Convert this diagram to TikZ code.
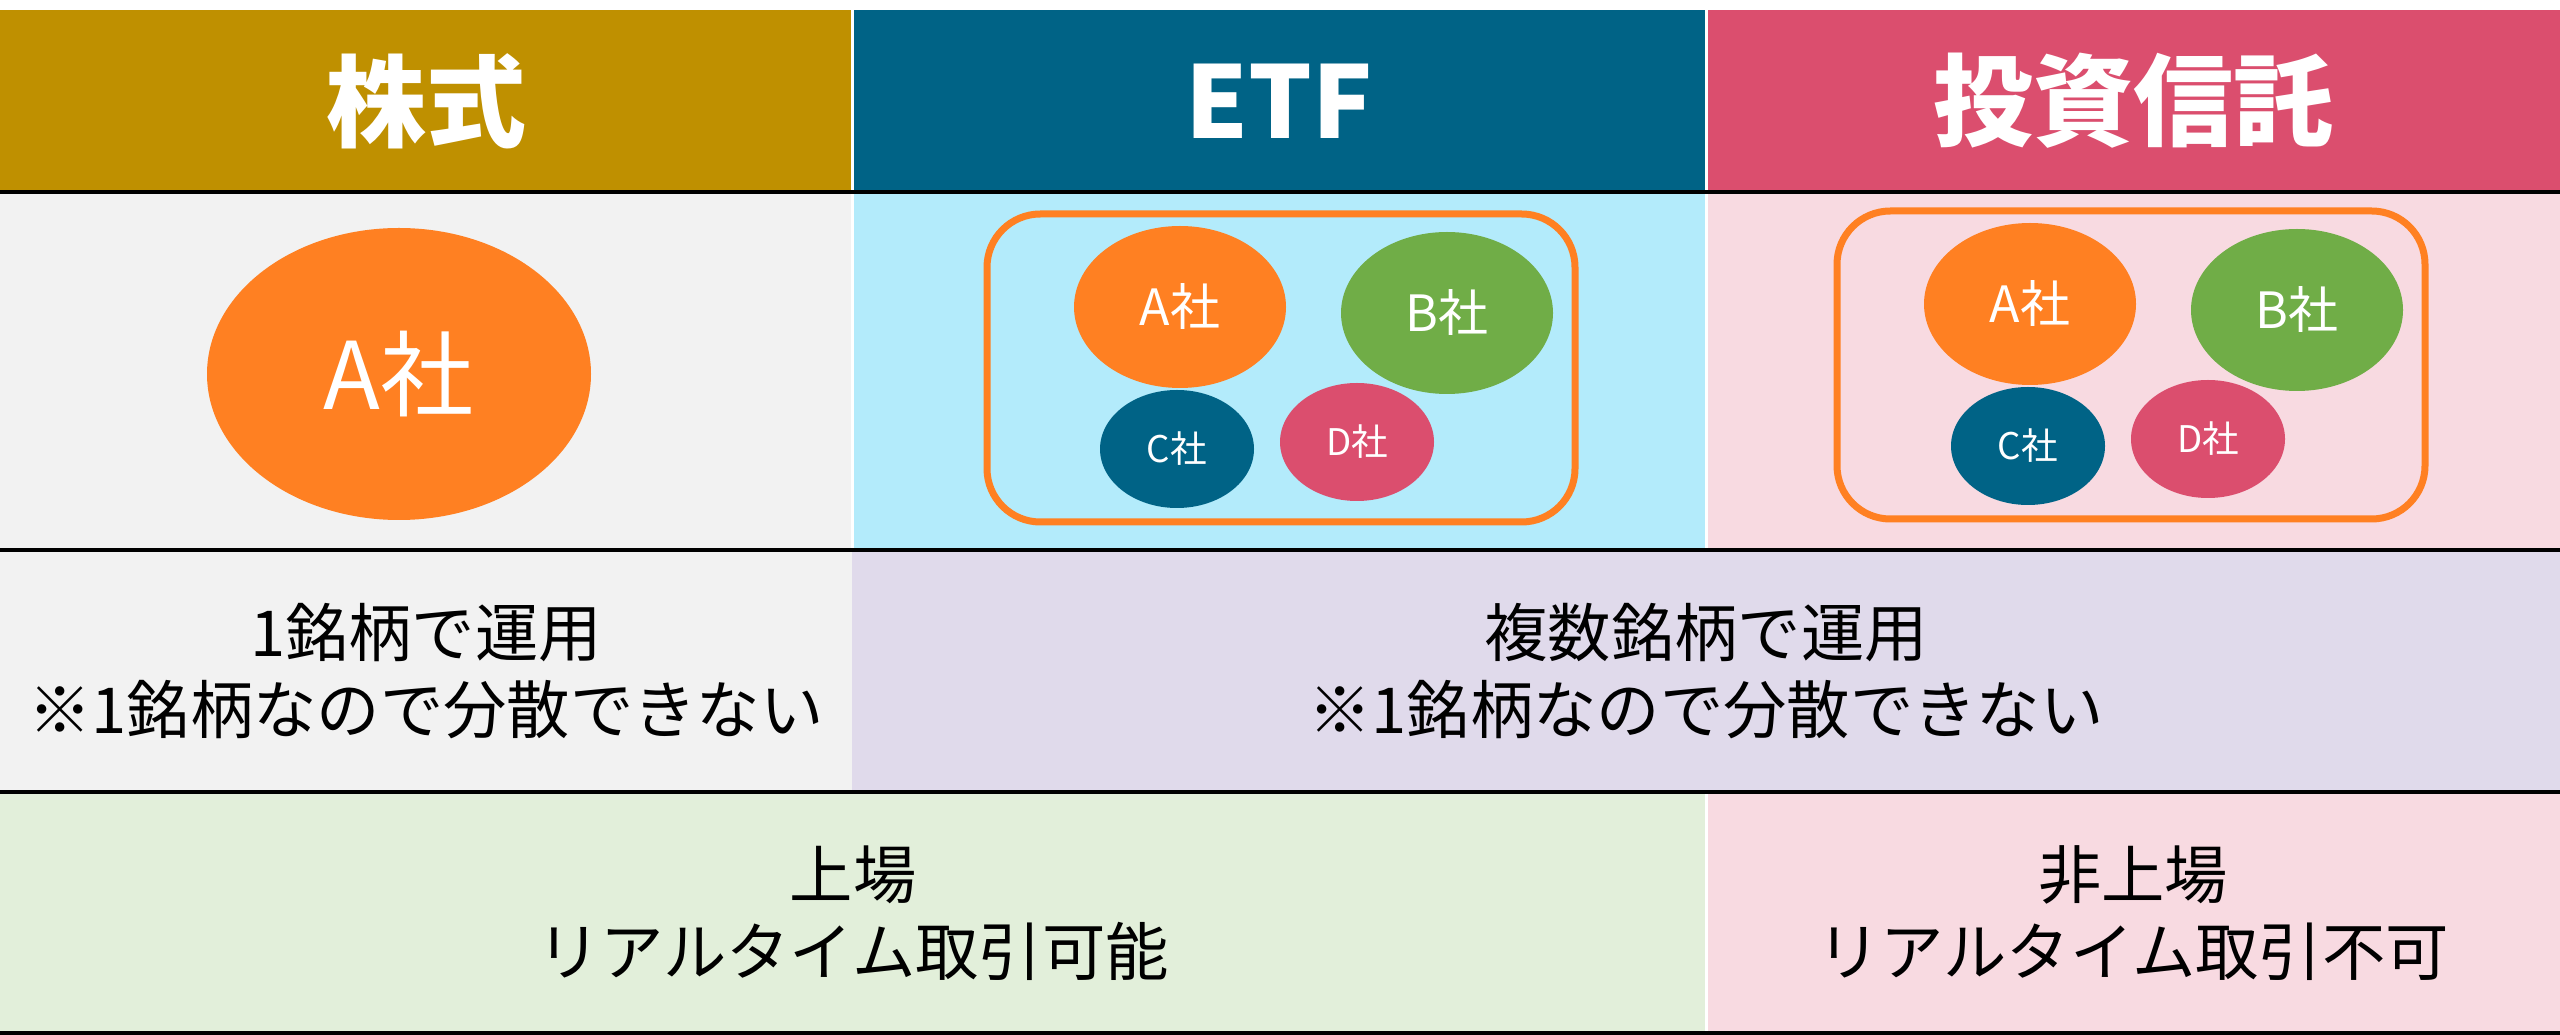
\documentclass[tikz,border=0pt]{standalone}
\usepackage{fontspec}
\setmainfont{Noto Sans CJK JP}
\usetikzlibrary{shapes.geometric}
\definecolor{hgold}{HTML}{BF9000}
\definecolor{hteal}{HTML}{006386}
\definecolor{hrose}{HTML}{DB4E6E}
\definecolor{lgray}{HTML}{F2F2F2}
\definecolor{lcyan}{HTML}{B3EBFB}
\definecolor{lpink}{HTML}{F8DAE1}
\definecolor{llav}{HTML}{E0DAEB}
\definecolor{lgreen}{HTML}{E2EFDA}
\definecolor{corange}{HTML}{FF8022}
\definecolor{cgreen}{HTML}{70AD47}
\begin{document}
\begin{tikzpicture}[x=0.3pt,y=-0.3pt,
  headtxt/.style={text=white,font=\fontsize{30}{36}\selectfont\bfseries,inner sep=0},
  celltxt/.style={text=black,align=center,font=\fontsize{19}{23.1}\selectfont,inner sep=0},
  bigco/.style={ellipse,inner sep=0,text=white,minimum width={212*0.3pt},minimum height={162*0.3pt},font=\fontsize{15}{18}\selectfont},
  smallco/.style={ellipse,inner sep=0,text=white,minimum width={154*0.3pt},minimum height={118*0.3pt},font=\fontsize{11}{13}\selectfont},
  frame/.style={draw=corange,line width=2.1pt,rounded corners=16pt,minimum width={588*0.3pt},minimum height={308*0.3pt},inner sep=0},
  rule/.style={black,line width=1pt},
  sep/.style={white,line width=0.9pt}]
\useasboundingbox (0,0) rectangle (2560,1035);
\fill[white] (0,0) rectangle (2560,1035);
% header
\fill[hgold] (0,10) rectangle (852,192);
\fill[hteal] (852,10) rectangle (1706,192);
\fill[hrose] (1706,10) rectangle (2560,192);
% row 2
\fill[lgray] (0,192) rectangle (852,550);
\fill[lcyan] (852,192) rectangle (1706,550);
\fill[lpink] (1706,192) rectangle (2560,550);
% row 3
\fill[lgray] (0,550) rectangle (852,792);
\fill[llav] (852,550) rectangle (2560,792);
% row 4
\fill[lgreen] (0,792) rectangle (1706,1033);
\fill[lpink] (1706,792) rectangle (2560,1033);
% separators
\draw[sep] (852,10) -- (852,550);
\draw[sep] (1706,10) -- (1706,550);
\draw[sep] (1706,792) -- (1706,1033);
\draw[rule] (0,192) -- (2560,192);
\draw[rule] (0,550) -- (2560,550);
\draw[rule] (0,792) -- (2560,792);
\draw[rule] (0,1033) -- (2560,1033);
% header texts
\node[headtxt] (h1) at (426,101) {株式};
\node[headtxt] (h2) at (1279,101) {ETF};
\node[headtxt] (h3) at (2133,101) {投資信託};
% stock
\node[ellipse,inner sep=0,fill=corange,text=white,minimum width={384*0.3pt},minimum height={292*0.3pt},font=\fontsize{28}{34}\selectfont] (sa) at (399,374) {A社};
% ETF
\node[frame] (ef) at (1281,368) {};
\node[bigco,fill=corange] (ea) at (1180,307) {A社};
\node[bigco,fill=cgreen] (eb) at (1447,313) {B社};
\node[smallco,fill=hteal] (ec) at (1177,449) {C社};
\node[smallco,fill=hrose] (ed) at (1357,442) {D社};
% investment trust
\node[frame] (tf) at (2131,365) {};
\node[bigco,fill=corange] (ta) at (2030,304) {A社};
\node[bigco,fill=cgreen] (tb) at (2297,310) {B社};
\node[smallco,fill=hteal] (tc) at (2028,446) {C社};
\node[smallco,fill=hrose] (td) at (2208,439) {D社};
% row 3 texts
\node[celltxt] (r3a) at (426,671) {1銘柄で運用\\※1銘柄なので分散できない};
\node[celltxt] (r3b) at (1706,671) {複数銘柄で運用\\※1銘柄なので分散できない};
% row 4 texts
\node[celltxt] (r4a) at (853,913) {上場\\リアルタイム取引可能};
\node[celltxt] (r4b) at (2133,913) {非上場\\リアルタイム取引不可};
\end{tikzpicture}
\end{document}
